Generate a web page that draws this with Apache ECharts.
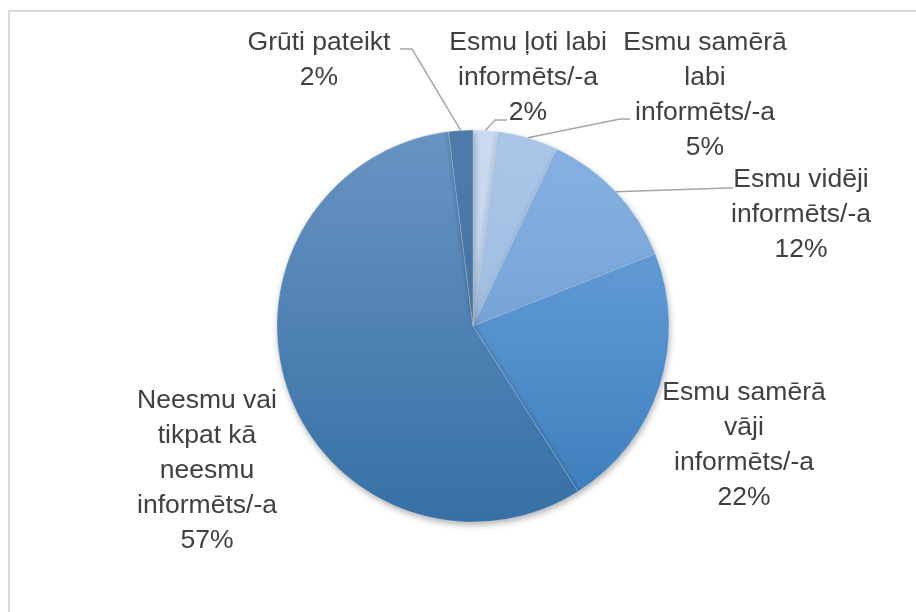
<!DOCTYPE html>
<html>
<head>
<meta charset="utf-8">
<script src="https://cdn.jsdelivr.net/npm/echarts@6/dist/echarts.min.js"></script>
<style>
  html, body { margin: 0; padding: 0; background: #fff; }
  #chart { width: 916px; height: 612px; }
</style>
</head>
<body>
<div id="chart"></div>
<script>
const names = [
  'Esmu ļoti labi\ninformēts/-a',
  'Esmu samērā\nlabi\ninformēts/-a',
  'Esmu vidēji\ninformēts/-a',
  'Esmu samērā\nvāji\ninformēts/-a',
  'Neesmu vai\ntikpat kā\nneesmu\ninformēts/-a',
  'Grūti pateikt'
]
const values = [2, 5, 12, 22, 57, 2]
// top / bottom colour of each slice gradient
const topColors = ['#cadaf0', '#abc6e8', '#88b2e2', '#72aae2', '#6994c4', '#4f7cac']
const bottomColors = ['#b8cde9', '#96b5dd', '#6697cf', '#3b7bbb', '#3670a5', '#3e6b9b']
// where each label sits (centre of its text block)
const labelPos = [[528, 78], [705, 95], [801, 215], [744, 445], [207, 471], [319, 60]]
// leader line elbow and end, relative to the label centre (null = no leader)
const leaders = [
  [[-33, 42], [-21, 42]],
  [[-85, 24], [-75, 24]],
  [[-74, -27], [-68, -27]],
  null,
  null,
  [[93, -11], [81, -11]]
]

const cx = 473, cy = 326, r = 196

const chart = echarts.init(document.getElementById('chart'))

const data = names.map((n, i) => ({
  name: n,
  value: values[i],
  itemStyle: {
    color: new echarts.graphic.LinearGradient(0, cy - r, 0, cy + r, [
      { offset: 0, color: topColors[i] },
      { offset: 1, color: bottomColors[i] }
    ], true)
  },
  labelLine: { show: leaders[i] != null }
}))

chart.setOption({
  animation: false,
  graphic: [{
    type: 'rect',
    shape: { x: 9, y: 11, width: 1000, height: 1000 },
    style: { fill: 'none', stroke: '#d9d9d9', lineWidth: 2 },
    silent: true
  }],
  series: [{
    type: 'pie',
    center: [cx, cy],
    radius: [0, r],
    startAngle: 90,
    clockwise: true,
    data: data,
    itemStyle: {
      borderColor: 'rgba(255,255,255,0.35)',
      borderWidth: 0.6,
      shadowBlur: 6,
      shadowOffsetY: 3,
      shadowOffsetX: 1,
      shadowColor: 'rgba(0,0,0,0.3)'
    },
    label: {
      show: true,
      formatter: p => p.name + '\n' + p.value + '%',
      color: '#404040',
      fontFamily: 'Liberation Sans',
      fontSize: 26.5,
      lineHeight: 35,
      align: 'center'
    },
    labelLine: {
      show: true,
      length: 12,
      length2: 10,
      lineStyle: { color: '#a6a6a6', width: 1.5 }
    },
    labelLayout: p => {
      const i = p.dataIndex
      const [x, y] = labelPos[i]
      const out = { x: x, y: y, align: 'center', verticalAlign: 'middle' }
      const ld = leaders[i]
      if (ld && p.labelLinePoints) {
        out.labelLinePoints = [
          p.labelLinePoints[0],
          [x + ld[0][0], y + ld[0][1]],
          [x + ld[1][0], y + ld[1][1]]
        ]
      }
      return out
    },
    emphasis: { disabled: true }
  }]
})
</script>
</body>
</html>
